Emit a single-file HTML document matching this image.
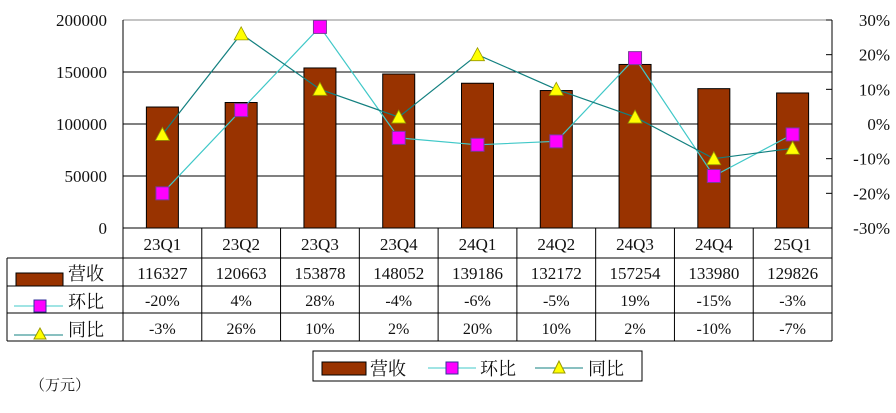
<!DOCTYPE html>
<html><head><meta charset="utf-8"><style>
body{margin:0;background:#fff;width:896px;height:408px;overflow:hidden}
svg text{font-family:"Liberation Serif","Noto Serif CJK SC",serif;fill:#111}
</style></head><body>
<svg id="c" width="896" height="408"></svg>
<script>
const categories=["23Q1","23Q2","23Q3","23Q4","24Q1","24Q2","24Q3","24Q4","25Q1"];
const revenue=[116327,120663,153878,148052,139186,132172,157254,133980,129826];
const qoq=[-20,4,28,-4,-6,-5,19,-15,-3];
const yoy=[-3,26,10,2,20,10,2,-10,-7];
const leftTicks=[0,50000,100000,150000,200000];
const rightTicks=[-30,-20,-10,0,10,20,30];
const NS="http://www.w3.org/2000/svg";
const svg=document.getElementById('c');
const L=123,R=832,T=20,B=228;
const cw=(R-L)/categories.length;
const xc=i=>L+cw*(i+0.5);
const yL=v=>B-(v/200000)*(B-T);
const yR=v=>B-((v+30)/60)*(B-T);
function el(tag,a,txt){const e=document.createElementNS(NS,tag);for(const k in a)e.setAttribute(k,a[k]);if(txt!==undefined)e.textContent=txt;svg.appendChild(e);return e;}
// gridlines
leftTicks.forEach(v=>{if(v>0){const g=el('line',{x1:L,x2:R,y1:yL(v),y2:yL(v),stroke:v===200000?'#888':'#000','stroke-width':1});

}
const t=el('text',{x:L-16,y:yL(v)+6,'text-anchor':'end','font-size':17},String(v));

});
let a=el('line',{x1:L,x2:L,y1:T,y2:B,stroke:'#000'});
a=el('line',{x1:R,x2:R,y1:T,y2:B,stroke:'#000'});
rightTicks.forEach(v=>{const tk=el('line',{x1:R-6,x2:R,y1:yR(v),y2:yR(v),stroke:'#000'});


const t=el('text',{x:890,y:yR(v)+6,'text-anchor':'end','font-size':17},v+'%');

});
// bars
revenue.forEach((v,i)=>{const b=el('rect',{x:xc(i)-16,y:yL(v),width:32,height:B-yL(v),fill:'#993300',stroke:'#000','stroke-width':1});

});
// lines
function poly(arr,col,name){const p=el('polyline',{points:arr.map((v,i)=>xc(i)+','+yR(v)).join(' '),fill:'none',stroke:col,'stroke-width':1.2});

}
poly(qoq,'#40c8c8','qoq-line');
poly(yoy,'#138080','yoy-line');
qoq.forEach((v,i)=>{const m=el('rect',{x:xc(i)-6.5,y:yR(v)-6.5,width:13,height:13,fill:'#ff00ff',stroke:'#7a3a9a','stroke-width':1});

});
yoy.forEach((v,i)=>{const x=xc(i),y=yR(v);const m=el('polygon',{points:`${x},${y-7} ${x-7},${y+6} ${x+7},${y+6}`,fill:'#ffff00',stroke:'#999900','stroke-width':0.8});

});
// table
const rows=[258,286,313,341];
let tl=el('line',{x1:L,x2:R,y1:B,y2:B,stroke:'#000'});
rows.forEach(y=>{const l=el('line',{x1:y===rows[0]||true?7:L,x2:R,y1:y,y2:y,stroke:'#000'});

});
let vl=el('line',{x1:7,x2:7,y1:258,y2:341,stroke:'#000'});
for(let i=0;i<=categories.length;i++){const x=L+cw*i;const l=el('line',{x1:x,x2:x,y1:B,y2:341,stroke:'#000'});

}
categories.forEach((c,i)=>{
const t1=el('text',{x:xc(i),y:250,'text-anchor':'middle','font-size':17},c);
const t2=el('text',{x:xc(i),y:279,'text-anchor':'middle','font-size':17},String(revenue[i]));
const t3=el('text',{x:xc(i),y:306,'text-anchor':'middle','font-size':16},qoq[i]+'%');
const t4=el('text',{x:xc(i),y:334,'text-anchor':'middle','font-size':16},yoy[i]+'%');});
// row headers
let r=el('rect',{x:16,y:273,width:47,height:13,fill:'#993300',stroke:'#000'});
let t=el('text',{x:68,y:280,'font-size':18},'营收');
r=el('line',{x1:14,x2:63,y1:306,y2:306,stroke:'#40c8c8'});
r=el('rect',{x:34,y:300,width:12,height:12,fill:'#ff00ff',stroke:'#333399'});
t=el('text',{x:68,y:308,'font-size':18},'环比');
r=el('line',{x1:14,x2:63,y1:335,y2:335,stroke:'#138080'});
r=el('polygon',{points:'40,328 34,339 46,339',fill:'#ffff00',stroke:'#999900'});
t=el('text',{x:68,y:336,'font-size':18},'同比');
// legend
r=el('rect',{x:313,y:351,width:329,height:30,fill:'#fff',stroke:'#000'});
r=el('rect',{x:322,y:362,width:44,height:13,fill:'#993300',stroke:'#000'});
t=el('text',{x:370,y:375,'font-size':18},'营收');
r=el('line',{x1:428,x2:476,y1:368,y2:368,stroke:'#40c8c8'});
r=el('rect',{x:446,y:362,width:12,height:12,fill:'#ff00ff',stroke:'#333399'});
t=el('text',{x:480,y:375,'font-size':18},'环比');
r=el('line',{x1:535,x2:583,y1:368,y2:368,stroke:'#138080'});
r=el('polygon',{points:'559,361 553,373 565,373',fill:'#ffff00',stroke:'#999900'});
t=el('text',{x:588,y:375,'font-size':18},'同比');
t=el('text',{x:30,y:390,'font-size':15},'（万元）');
</script>
</body></html>
